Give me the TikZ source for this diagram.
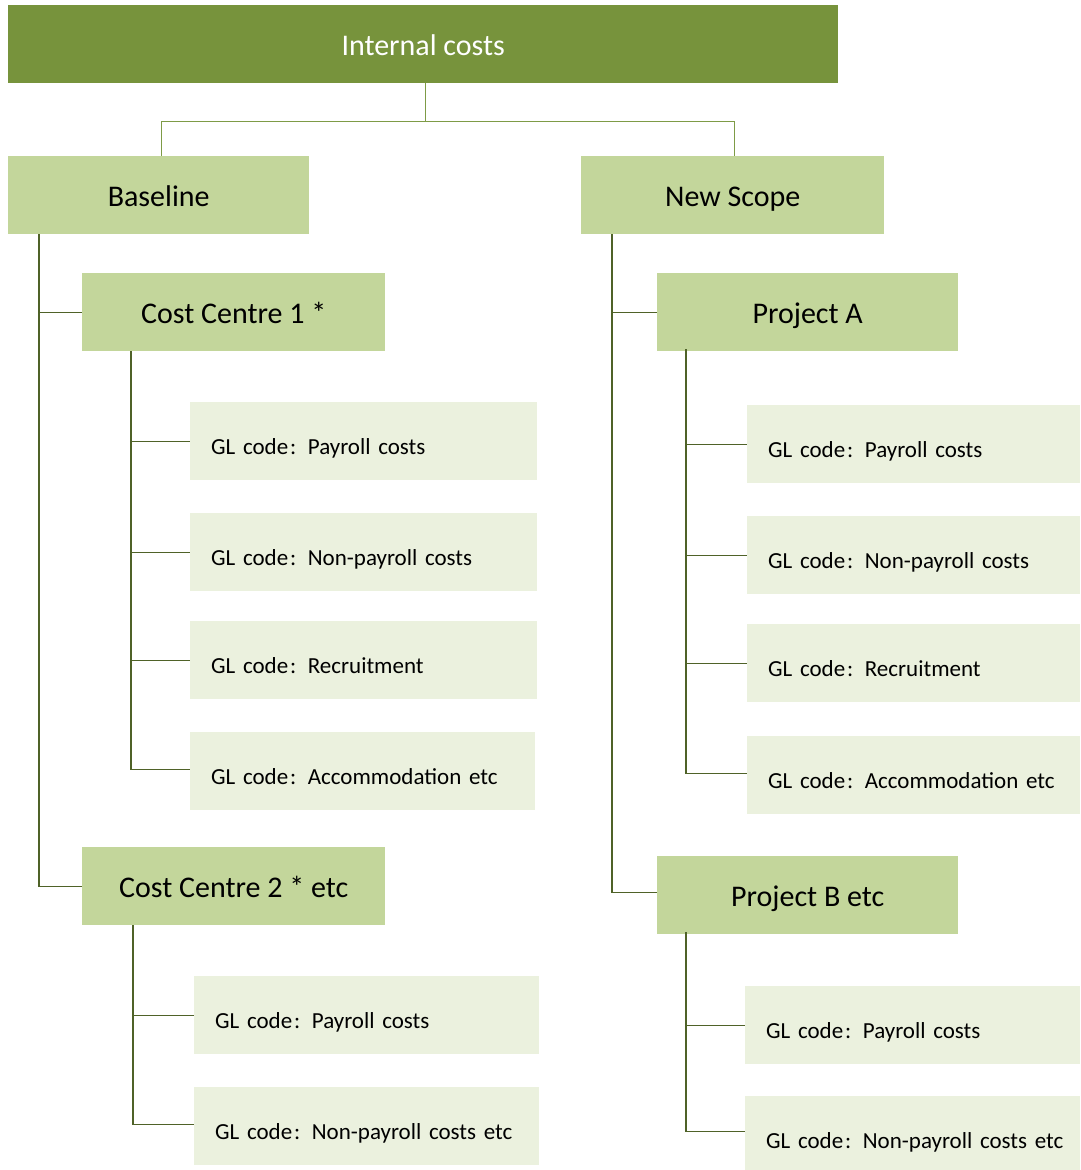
\documentclass[tikz,border=0pt]{standalone}
\usepackage{fontspec}
\setmainfont{Carlito}
\newfontfamily\glfont[WordSpace=0.85]{Carlito}
\definecolor{topfill}{HTML}{77933C}
\definecolor{midfill}{HTML}{C3D69B}
\definecolor{glfill}{HTML}{EBF1DE}
\definecolor{toplink}{HTML}{7E9B46}
\definecolor{link}{HTML}{4F6228}
\tikzset{
  topbox/.style={fill=topfill, text=white, minimum width=830pt, minimum height=78pt, anchor=north west, inner sep=0pt, text height=28pt, text depth=5pt, font=\fontsize{30}{36}\selectfont},
  midbox/.style={fill=midfill, text=black, minimum width=#1, minimum height=78pt, anchor=north west, inner sep=0pt, text height=28pt, text depth=5pt, font=\fontsize{30}{36}\selectfont},
  glbox/.style={fill=glfill, text=black, text width=#1, minimum height=78pt, anchor=north west, inner xsep=0pt, inner ysep=0pt, align=left,
    text height=27pt, text depth=0pt,
    font=\glfont\fontsize{23}{28}\selectfont,
    execute at begin node={\hspace*{21pt}}},
  toplinks/.style={draw=toplink, line width=1.3pt},
  links/.style={draw=link, line width=1.3pt}
}
\begin{document}
\begin{tikzpicture}[x=1pt,y=-1pt]
\useasboundingbox (0,0) rectangle (1081,1170);
% top
\node[topbox] (top) at (8,5) {Internal costs};
\node[midbox=301pt] (base) at (8,156) {Baseline};
\node[midbox=303pt] (scope) at (581,156) {New Scope};
% left
\node[midbox=303pt] (cc1) at (82,273) {Cost Centre 1 *};
\node[glbox=347pt] (l1) at (190,402) {GL code\kern2pt: Payroll costs};
\node[glbox=347pt] (l2) at (190,513) {GL code\kern2pt: Non-payroll costs};
\node[glbox=347pt] (l3) at (190,621) {GL code\kern2pt: Recruitment};
\node[glbox=345pt] (l4) at (190,732) {GL code\kern2pt: Accommodation etc};
\node[midbox=303pt] (cc2) at (82,847) {Cost Centre 2 * etc};
\node[glbox=345pt] (l5) at (194,976) {GL code\kern2pt: Payroll costs};
\node[glbox=345pt] (l6) at (194,1087) {GL code\kern2pt: Non-payroll costs etc};
% right
\node[midbox=301pt] (pa) at (657,273) {Project A};
\node[glbox=333pt] (r1) at (747,405) {GL code\kern2pt: Payroll costs};
\node[glbox=333pt] (r2) at (747,516) {GL code\kern2pt: Non-payroll costs};
\node[glbox=333pt] (r3) at (747,624) {GL code\kern2pt: Recruitment};
\node[glbox=333pt] (r4) at (747,736) {GL code\kern2pt: Accommodation etc};
\node[midbox=301pt] (pb) at (657,856) {Project B etc};
\node[glbox=335pt] (r5) at (745,986) {GL code\kern2pt: Payroll costs};
\node[glbox=335pt] (r6) at (745,1096) {GL code\kern2pt: Non-payroll costs etc};
% top connectors
\coordinate (hub) at ([xshift=2pt]top.south);
\draw[toplinks] (hub) -- ++(0,38) coordinate (bar) -| ([xshift=3pt]base.north);
\draw[toplinks] (bar) -| ([xshift=2pt]scope.north);
% baseline connectors
\draw[links] ([xshift=31pt]base.south west) coordinate (bs) |- (cc1.west);
\draw[links] (bs) |- (cc2.west);
\draw[links] ([xshift=49pt]cc1.south west) coordinate (c1) |- (l1.west);
\draw[links] (c1) |- (l2.west);
\draw[links] (c1) |- (l3.west);
\draw[links] (c1) |- ([yshift=2pt]l4.west);
\draw[links] ([xshift=51pt]cc2.south west) coordinate (c2) |- (l5.west);
\draw[links] (c2) |- ([yshift=2pt]l6.west);
% new scope connectors
\draw[links] ([xshift=31pt]scope.south west) coordinate (ss) |- (pa.west);
\draw[links] (ss) |- ([yshift=3pt]pb.west);
\draw[links] ([xshift=29pt,yshift=2pt]pa.south west) coordinate (p1) |- (r1.west);
\draw[links] (p1) |- (r2.west);
\draw[links] (p1) |- (r3.west);
\draw[links] (p1) |- ([yshift=2pt]r4.west);
\draw[links] ([xshift=29pt,yshift=2pt]pb.south west) coordinate (p2) |- (r5.west);
\draw[links] (p2) |- ([yshift=4pt]r6.west);
\end{tikzpicture}
\end{document}
